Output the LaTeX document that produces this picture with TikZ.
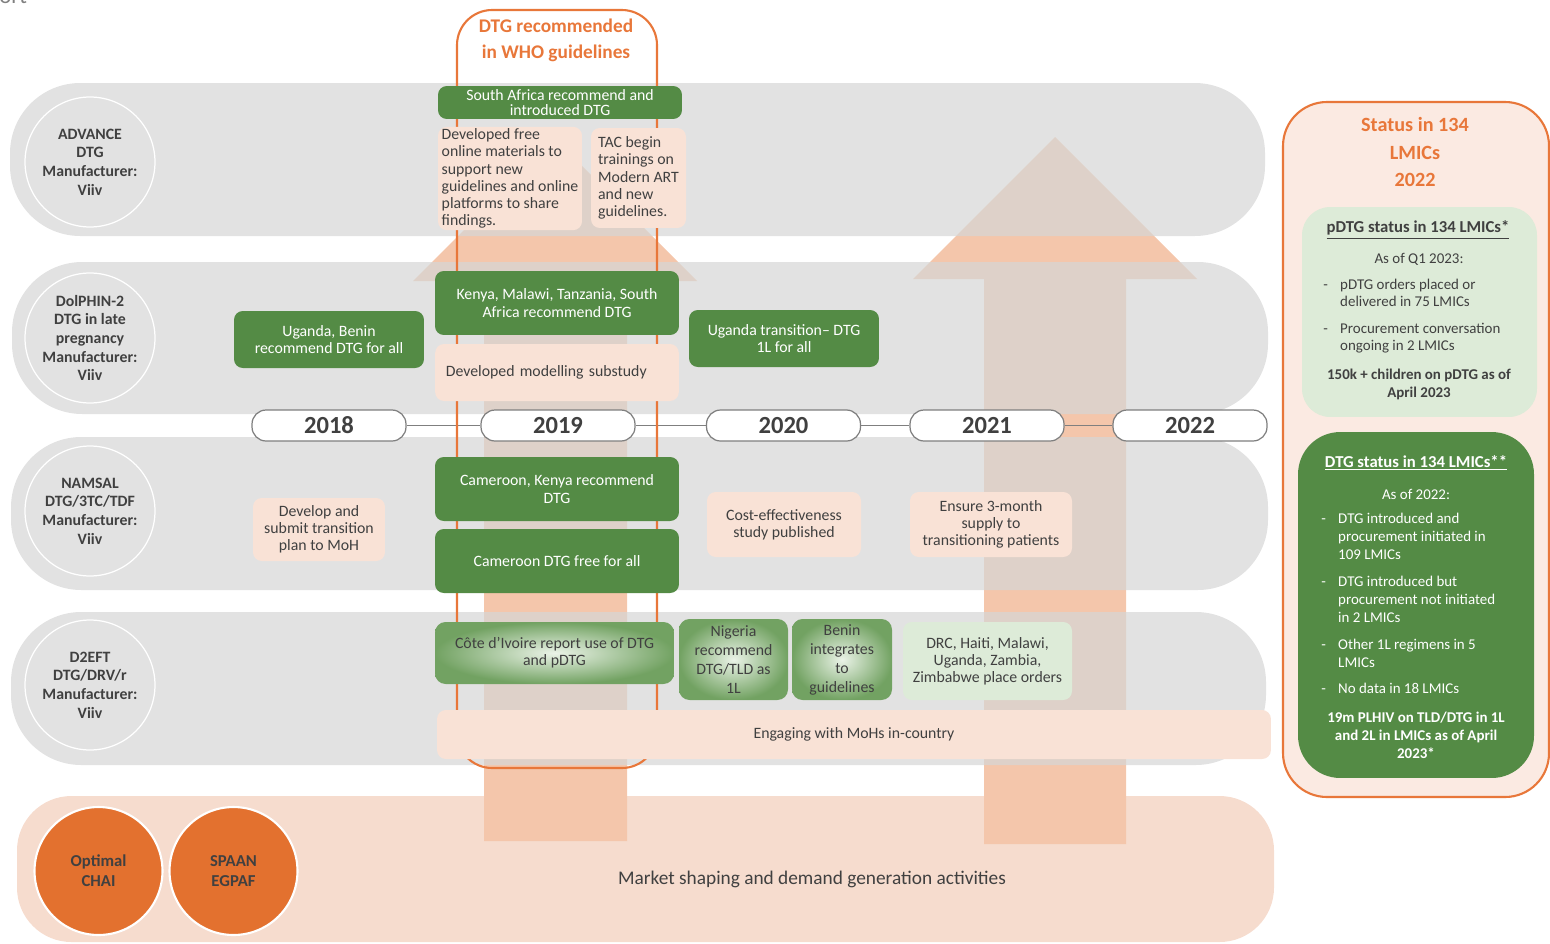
\documentclass[tikz,border=0pt]{standalone}
\usepackage{fontspec}
\setmainfont{Carlito}
\definecolor{bandgray}{HTML}{D6D6D6}
\definecolor{arrowpeach}{HTML}{F4C6AB}
\definecolor{basepeach}{HTML}{F6DCCE}
\definecolor{boxpeach}{HTML}{F9E2D6}
\definecolor{dkgreen}{HTML}{548B45}
\definecolor{ltgreen}{HTML}{DDEBD8}
\definecolor{midgreen}{HTML}{72A262}
\definecolor{orangeline}{HTML}{E8773A}
\definecolor{orangefill}{HTML}{E3712F}
\definecolor{panelpeach}{HTML}{FBEAE2}
\definecolor{txtgray}{HTML}{404040}
\definecolor{pillgray}{HTML}{7F7F7F}

\newcommand{\boxfont}{\fontsize{9}{9.8}\selectfont}
\newcommand{\lanefont}{\fontsize{9}{10.6}\selectfont\bfseries}
\newcommand{\panelfont}{\fontsize{8.5}{9.9}\selectfont}

\tikzstyle{boxg}=[rounded corners=5pt,fill=dkgreen,text=white,inner sep=1pt,align=center,font=\boxfont]
\tikzstyle{boxp}=[rounded corners=5pt,fill=boxpeach,text=txtgray,inner sep=1pt,align=center,font=\boxfont]
\tikzstyle{boxl}=[rounded corners=5pt,fill=ltgreen,text=txtgray,inner sep=1pt,align=center,font=\boxfont]
\tikzstyle{boxr}=[rounded corners=6pt,inner color=ltgreen!60!white,outer color=midgreen,text=txtgray,inner sep=1pt,align=center,font=\boxfont]
\tikzstyle{lanec}=[circle,draw=white,line width=0.7pt,minimum size=2.6cm,inner sep=0pt,align=center,text=txtgray,font=\lanefont]
\tikzstyle{yearw}=[rounded corners=8pt,draw=pillgray,line width=0.7pt,fill=white,minimum width=3.08cm,minimum height=0.62cm,inner sep=0pt,text=txtgray,font=\fontsize{14}{16}\selectfont\bfseries]
\tikzstyle{orgc}=[circle,fill=orangefill,draw=white,line width=1.2pt,minimum size=2.56cm,inner sep=0pt,align=center,text=txtgray,font=\fontsize{9.5}{11.4}\selectfont\bfseries]

\begin{document}
\begin{tikzpicture}[x=0.02cm,y=-0.02cm]
    \useasboundingbox (0,0) rectangle (1550,943);
    \node[anchor=base west,inner sep=0pt,text=gray,font=\fontsize{13}{15}\selectfont] (cut) at (-1,4) {ort};

    % market shaping band and the two arrows
    \fill[basepeach,rounded corners=31pt] (17,796) rectangle (1274,942);
    \fill[arrowpeach] (413,281) -- (555,139) -- (697,281) -- (627,281) -- (627,841) -- (484,841) -- (484,281) -- cycle;
    \fill[arrowpeach] (913,279) -- (1055,137) -- (1197,279) -- (1126,279) -- (1126,844) -- (984,844) -- (984,279) -- cycle;

    % study lanes
    \fill[bandgray,fill opacity=0.7,rounded corners=40pt] (10,83) rectangle (1265,236);
    \fill[bandgray,fill opacity=0.7,rounded corners=40pt] (12,262) rectangle (1268,414);
    \fill[bandgray,fill opacity=0.7,rounded corners=40pt] (11,437) rectangle (1268,590);
    \fill[bandgray,fill opacity=0.7,rounded corners=40pt] (11,612) rectangle (1266,765);

    \node[lanec] (lane1) at (90,162) {ADVANCE\\DTG\\Manufacturer:\\Viiv};
    \node[lanec] (lane2) at (90,338) {DolPHIN-2\\DTG in late\\pregnancy\\Manufacturer:\\Viiv};
    \node[lanec] (lane3) at (90,511) {NAMSAL\\DTG/3TC/TDF\\Manufacturer:\\Viiv};
    \node[lanec] (lane4) at (90,685) {D2EFT\\DTG/DRV/r\\Manufacturer:\\Viiv};

    % timeline
    \foreach \yr/\xc in {2018/329,2019/558,2020/783.5,2021/987,2022/1190}
        \node[yearw] (y\yr) at (\xc,425.5) {\yr};
    \foreach \from/\to in {y2018/y2019,y2019/y2020,y2020/y2021,y2021/y2022}
        \draw[pillgray,line width=0.8pt] (\from) -- (\to);

    % WHO frame
    \draw[orangeline,line width=1.2pt,rounded corners=20pt] (457,10) rectangle (657,768);
    \node[font=\fontsize{11}{14.8}\selectfont\bfseries,text=orangeline,align=center] (who) at (556,40) {DTG recommended\\in WHO guidelines};

    % ADVANCE
    \node[boxg,minimum width=4.88cm,minimum height=0.66cm,inner sep=0pt,font=\fontsize{9}{9}\selectfont] (sa) at (560,102.5) {South Africa recommend and\\introduced DTG};
    \node[boxp,align=left,minimum width=2.88cm,minimum height=2.02cm] (online) at (510,178.5) {Developed free\\online materials to\\support new\\guidelines and online\\platforms to share\\findings.};
    \node[boxp,align=left,minimum width=1.9cm,minimum height=2.0cm] (tac) at (638.5,178) {TAC begin\\trainings on\\Modern ART\\and new\\guidelines.};

    % DolPHIN-2
    \node[boxg,minimum width=3.8cm,minimum height=1.14cm] (ugben) at (329,339.5) {Uganda, Benin\\recommend DTG for all};
    \node[boxg,minimum width=4.88cm,minimum height=1.28cm] (kenya) at (557,303) {Kenya, Malawi, Tanzania, South\\Africa recommend DTG};
    \node[boxp,align=left,inner xsep=6pt,text width=4.45cm,minimum height=1.14cm] (model) at (557,372.5) {Developed modelling substudy};
    \node[boxg,minimum width=3.8cm,minimum height=1.14cm] (ugtr) at (784,338.5) {Uganda transition– DTG\\1L for all};

    % NAMSAL
    \node[boxp,minimum width=2.64cm,minimum height=1.26cm] (plan) at (319,529.5) {Develop and\\submit transition\\plan to MoH};
    \node[boxg,minimum width=4.88cm,minimum height=1.28cm] (camk) at (557,489) {Cameroon, Kenya recommend\\DTG};
    \node[boxg,minimum width=4.88cm,minimum height=1.28cm] (camf) at (557,561) {Cameroon DTG free for all};
    \node[boxp,minimum width=3.08cm,minimum height=1.3cm] (cost) at (784,524.5) {Cost-effectiveness\\study published};
    \node[boxp,minimum width=3.24cm,minimum height=1.3cm] (supply) at (991,524.5) {Ensure 3-month\\supply to\\transitioning patients};

    % D2EFT
    \node[boxr,minimum width=4.78cm,minimum height=1.24cm] (civ) at (554.5,653) {Côte d’Ivoire report use of DTG\\and pDTG};
    \node[boxr,minimum width=2.18cm,minimum height=1.62cm,font=\fontsize{9}{10.8}\selectfont] (nig) at (733.5,659.5) {Nigeria\\recommend\\DTG/TLD as\\1L};
    \node[boxr,minimum width=2.0cm,minimum height=1.62cm,font=\fontsize{9}{10.8}\selectfont] (benin) at (842,659.5) {Benin\\integrates\\to\\guidelines};
    \node[boxl,minimum width=3.38cm,minimum height=1.56cm] (drc) at (987.5,661) {DRC, Haiti, Malawi,\\Uganda, Zambia,\\Zimbabwe place orders};
    \node[boxp,minimum width=16.68cm,minimum height=0.98cm] (moh) at (854,734.5) {Engaging with MoHs in-country};

    % market shaping
    \node[orgc] (optimal) at (98.5,871) {Optimal\\CHAI};
    \node[orgc] (spaan) at (233.5,871) {SPAAN\\EGPAF};
    \node[text=txtgray,font=\fontsize{11}{13}\selectfont] (market) at (812,879) {Market shaping and demand generation activities};

    % status panel
    \draw[orangeline,fill=panelpeach,line width=1.2pt,rounded corners=25pt] (1283,102) rectangle (1549,797);
    \node[font=\fontsize{11.5}{15.4}\selectfont\bfseries,text=orangeline,align=center] (status) at (1415,152) {Status in 134\\LMICs\\2022};

    \node[rounded corners=16pt,fill=ltgreen,minimum width=4.7cm,minimum height=4.2cm] (pbox) at (1419.5,312) {};
    \node[font=\fontsize{9.5}{11}\selectfont\bfseries,text=txtgray] (phead) at (1418,230) {\underline{pDTG status in 134 LMICs*}};
    \node[font=\panelfont,text=txtgray] (pasof) at (1419,259) {As of Q1 2023:};
    \node[font=\panelfont,text=txtgray,anchor=west,inner sep=0pt] (pit1) at (1323,294.5) {\begin{tabular}{@{}l@{\hspace{7pt}}l@{}}-&pDTG orders placed or\\&delivered in 75 LMICs\end{tabular}};
    \node[font=\panelfont,text=txtgray,anchor=west,inner sep=0pt] (pit2) at (1323,338.5) {\begin{tabular}{@{}l@{\hspace{7pt}}l@{}}-&Procurement conversation\\&ongoing in 2 LMICs\end{tabular}};
    \node[font=\fontsize{8.5}{10.2}\selectfont\bfseries,text=txtgray,align=center] (pfoot) at (1419,384) {150k + children on pDTG as of\\April 2023};

    \node[rounded corners=24pt,fill=dkgreen,minimum width=4.72cm,minimum height=6.92cm] (dbox) at (1416,605) {};
    \node[font=\fontsize{9.5}{11}\selectfont\bfseries,text=white] (dhead) at (1416,463) {\underline{DTG status in 134 LMICs**}};
    \node[font=\panelfont,text=white] (dasof) at (1416,494) {As of 2022:};
    \node[font=\fontsize{8.5}{10.3}\selectfont,text=white,anchor=west,inner sep=0pt] (dit1) at (1321,538) {\begin{tabular}{@{}l@{\hspace{7pt}}l@{}}-&DTG introduced and\\&procurement initiated in\\&109 LMICs\end{tabular}};
    \node[font=\fontsize{8.5}{10.3}\selectfont,text=white,anchor=west,inner sep=0pt] (dit2) at (1321,601) {\begin{tabular}{@{}l@{\hspace{7pt}}l@{}}-&DTG introduced but\\&procurement not initiated\\&in 2 LMICs\end{tabular}};
    \node[font=\fontsize{8.5}{10.3}\selectfont,text=white,anchor=west,inner sep=0pt] (dit3) at (1321,654.5) {\begin{tabular}{@{}l@{\hspace{7pt}}l@{}}-&Other 1L regimens in 5\\&LMICs\end{tabular}};
    \node[font=\fontsize{8.5}{10.3}\selectfont,text=white,anchor=west,inner sep=0pt] (dit4) at (1321,690) {\begin{tabular}{@{}l@{\hspace{7pt}}l@{}}-&No data in 18 LMICs\end{tabular}};
    \node[font=\fontsize{8.5}{10.3}\selectfont\bfseries,text=white,align=center] (dfoot) at (1416,735) {19m PLHIV on TLD/DTG in 1L\\and 2L in LMICs as of April\\2023*};
\end{tikzpicture}
\end{document}
